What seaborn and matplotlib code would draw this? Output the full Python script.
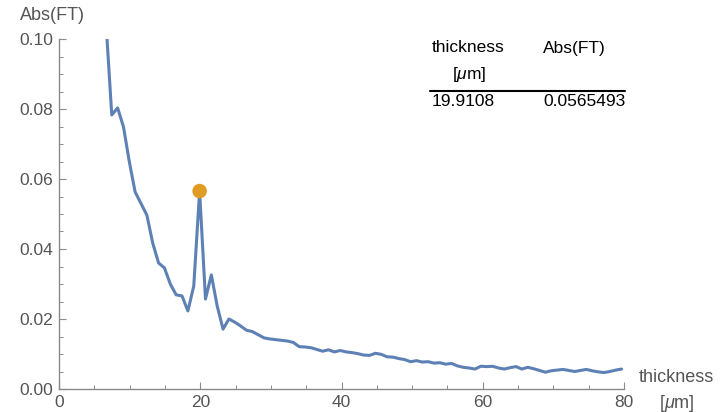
import matplotlib
matplotlib.use("Agg")
import matplotlib.pyplot as plt
import seaborn as sns
import pandas as pd
from matplotlib.ticker import MultipleLocator

thickness = [6.80, 7.47, 8.30, 9.13, 9.96, 10.78, 11.61, 12.44, 13.27, 14.10,
             14.93, 15.76, 16.59, 17.42, 18.25, 19.08, 19.91, 20.74, 21.57, 22.40,
             23.23, 24.06, 24.89, 25.72, 26.55, 27.38, 28.21, 29.04, 29.87, 30.70,
             31.53, 32.36, 33.18, 34.01, 34.84, 35.67, 36.50, 37.33, 38.16, 38.99,
             39.82, 40.65, 41.48, 42.31, 43.14, 43.97, 44.80, 45.63, 46.46, 47.29,
             48.12, 48.95, 49.78, 50.61, 51.44, 52.27, 53.10, 53.93, 54.75, 55.58,
             56.41, 57.24, 58.07, 58.90, 59.73, 60.56, 61.39, 62.22, 63.05, 63.88,
             64.71, 65.54, 66.37, 67.20, 68.03, 68.86, 69.69, 70.52, 71.35, 72.18,
             73.01, 73.84, 74.67, 75.50, 76.33, 77.16, 77.99, 78.82, 79.65]
abs_ft = [0.1000, 0.0783, 0.0803, 0.0749, 0.0649, 0.0563, 0.0530, 0.0497, 0.0417, 0.0360,
          0.0346, 0.0300, 0.0269, 0.0266, 0.0223, 0.0294, 0.0565, 0.0257, 0.0326, 0.0237,
          0.0171, 0.0200, 0.0191, 0.0180, 0.0168, 0.0164, 0.0155, 0.0146, 0.0143, 0.0141,
          0.0139, 0.0137, 0.0133, 0.0121, 0.0120, 0.0118, 0.0113, 0.0108, 0.0112, 0.0106,
          0.0110, 0.0106, 0.0104, 0.0101, 0.0097, 0.0096, 0.0102, 0.0099, 0.0092, 0.0091,
          0.0087, 0.0084, 0.0078, 0.0081, 0.0077, 0.0078, 0.0074, 0.0075, 0.0071, 0.0073,
          0.0066, 0.0062, 0.0060, 0.0057, 0.0065, 0.0064, 0.0065, 0.0060, 0.0057, 0.0061,
          0.0064, 0.0057, 0.0062, 0.0058, 0.0053, 0.0048, 0.0052, 0.0054, 0.0056, 0.0053,
          0.0050, 0.0053, 0.0056, 0.0052, 0.0049, 0.0047, 0.0050, 0.0054, 0.0057]

peak_x = [19.9108]
peak_y = [0.0565493]

table_headers = ["thickness", "Abs(FT)"]
table_unit = "[$\\mu$m]"
table_values = ["19.9108", "0.0565493"]

x_ticks = [0, 20, 40, 60, 80]
y_ticks = [0.00, 0.02, 0.04, 0.06, 0.08, 0.10]

sns.set_theme(style="ticks")
plt.rcParams['font.family'] = ['Liberation Sans', 'DejaVu Sans']
plt.rcParams['mathtext.fontset'] = 'custom'
plt.rcParams['mathtext.it'] = 'Liberation Sans:italic'
plt.rcParams['mathtext.rm'] = 'Liberation Sans'

line_color = "#5E81B5"
dot_color = "#E09C24"
axis_gray = "#8a8a8a"
label_gray = "#555555"

fig = plt.figure(figsize=(7.25, 4.12), dpi=100)
ax = fig.add_axes([59/725, 1-389/412, (624-59)/725, (389-39)/412])

df = pd.DataFrame({"thickness": thickness, "abs": abs_ft})
sns.lineplot(data=df, x="thickness", y="abs", sort=False, ax=ax,
             color=line_color, linewidth=2.2)
pk = pd.DataFrame({"thickness": peak_x, "abs": peak_y})
sns.scatterplot(data=pk, x="thickness", y="abs", ax=ax, color=dot_color,
                s=110, edgecolor="none", zorder=5, clip_on=False)

ax.set_xlim(0, 80)
ax.set_ylim(0, 0.1)
ax.set_xticks(x_ticks)
ax.set_yticks(y_ticks)
ax.set_xticklabels([str(v) for v in x_ticks])
ax.set_yticklabels([f"{v:.2f}" for v in y_ticks])
ax.xaxis.set_minor_locator(MultipleLocator(5))
ax.yaxis.set_minor_locator(MultipleLocator(0.005))
ax.set_xlabel("")
ax.set_ylabel("")
for s in ["top", "right"]:
    ax.spines[s].set_visible(False)
for s in ["left", "bottom"]:
    ax.spines[s].set_color(axis_gray)
    ax.spines[s].set_linewidth(1.0)
ax.tick_params(which="major", direction="in", length=5, width=0.8, color=axis_gray,
               labelcolor=label_gray, labelsize=12.5, pad=4)
ax.tick_params(which="minor", direction="in", length=3, width=0.7, color=axis_gray)

fs = 13
tfs = 12.5
fig.text(20/725, 1-15/412, "Abs(FT)", color=label_gray, fontsize=fs,
         ha="left", va="center")
fig.text(639/725, 1-377/412, "thickness", color=label_gray, fontsize=fs,
         ha="left", va="center")
fig.text(659/725, 1-403/412, "[$\\mu$m]", color=label_gray, fontsize=fs,
         ha="left", va="center")

# table
fig.text(432/725, 1-48/412, table_headers[0], color="black", fontsize=tfs, ha="left", va="center")
fig.text(543/725, 1-48/412, table_headers[1], color="black", fontsize=tfs, ha="left", va="center")
fig.text(452/725, 1-74/412, table_unit, color="black", fontsize=tfs, ha="left", va="center")
fig.add_artist(plt.Line2D([430/725, 625/725], [1-91/412, 1-91/412], color="black",
                          linewidth=1.5, transform=fig.transFigure))
fig.text(432/725, 1-101/412, table_values[0], color="black", fontsize=tfs, ha="left", va="center")
fig.text(543/725, 1-101/412, table_values[1], color="black", fontsize=tfs, ha="left", va="center")

fig.savefig("out.png", dpi=100)
